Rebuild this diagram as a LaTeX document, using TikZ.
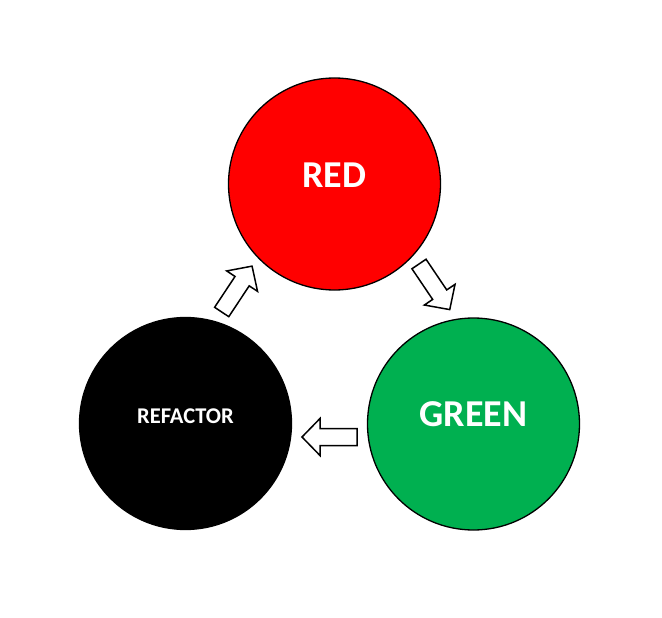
\documentclass[tikz,border=0pt]{standalone}
\usepackage{fontspec}
\setmainfont{Carlito}
\definecolor{tddred}{HTML}{FF0000}
\definecolor{tddgreen}{HTML}{00B050}
\tikzset{
  phase/.style={circle, draw=black, line width=1.3pt, minimum size=212pt, inner sep=0pt},
  phaselabel/.style={text=white, font=\bfseries, inner sep=0pt, anchor=center},
  blockarrow/.pic={
    \draw[line width=1.5pt, fill=white, line join=miter]
      (0,-8.5) -- (37,-8.5) -- (37,-18.5) -- (55,0) -- (37,18.5) -- (37,8.5) -- (0,8.5) -- cycle;
  }
}
\begin{document}
\begin{tikzpicture}[x=1pt,y=-1pt]
\useasboundingbox (0,0) rectangle (662,618);
\node[phase, fill=tddred] (red) at (334.5,184) {};
\node[phase, fill=tddgreen] (green) at (473.5,424) {};
\node[phase, fill=black] (refactor) at (185.5,423.5) {};
\node[phaselabel, font=\bfseries\fontsize{38}{40}\selectfont] (redl) at (334.5,175) {RED};
\node[phaselabel, font=\bfseries\fontsize{38}{40}\selectfont] (greenl) at (473.5,414.5) {GREEN};
\node[phaselabel, font=\bfseries\fontsize{22.5}{24}\selectfont] (refl) at (185.5,416) {REFACTOR};
\coordinate (a1) at (221.7,312);
\coordinate (a2) at (419,264);
\coordinate (a3) at (357,437);
\pic[rotate=56.5] at (a1) {blockarrow};
\pic[rotate=-56] at (a2) {blockarrow};
\pic[rotate=180] at (a3) {blockarrow};
\end{tikzpicture}
\end{document}
